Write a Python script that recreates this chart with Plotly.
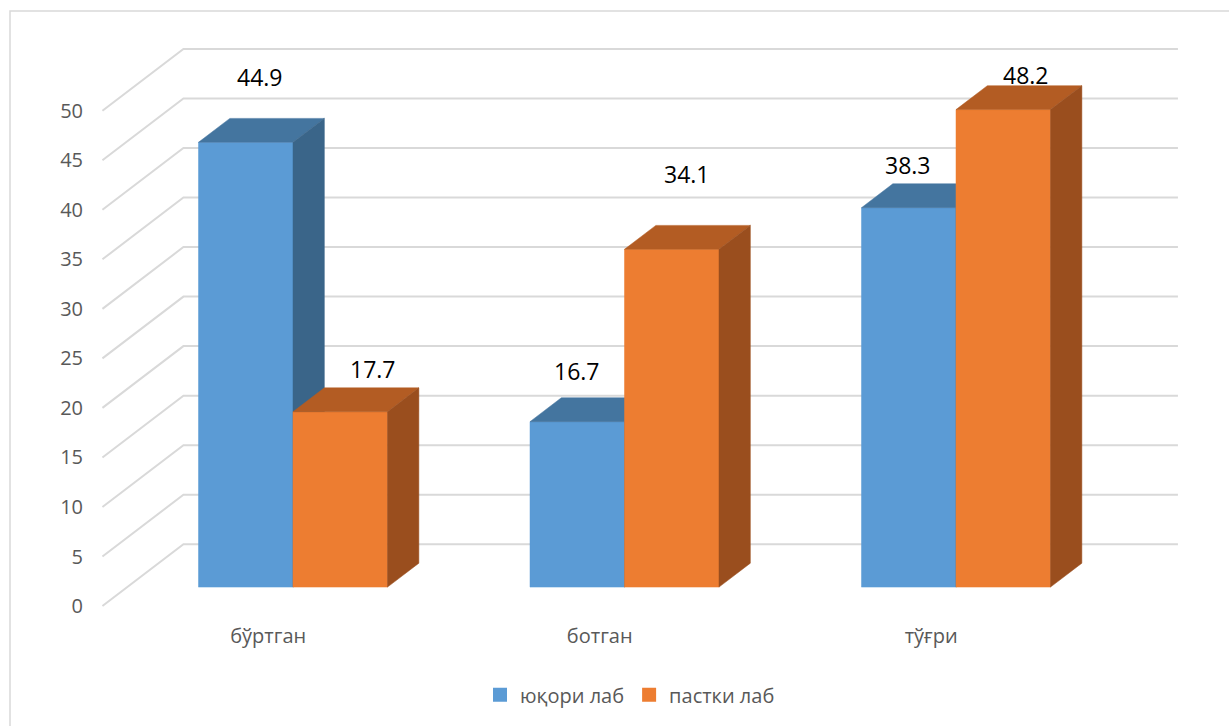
import plotly.graph_objects as go

# ---------------- data ----------------
categories = ["бўртган", "ботган", "тўғри"]
series_names = ["юқори лаб", "пастки лаб"]
upper_lip = [44.9, 16.7, 38.3]
lower_lip = [17.7, 34.1, 48.2]
y_ticks = [0, 5, 10, 15, 20, 25, 30, 35, 40, 45, 50]

# ---------------- style / geometry ----------------
W, H = 1229, 726
FONT = "Open Sans"
GRAY = "#595959"
GRID = "#d9d9d9"
FRONT = ["#5b9bd5", "#ed7d31"]
TOP = ["#44759f", "#b35c23"]
SIDE = ["#3a6589", "#9a4e1e"]

# pixel mapping of the front plane of the bars
PX0, PXC = 293.0, 331.5      # pixel of category 0 centre, pixels per category
PY0, PYV = 589.0, 9.94       # pixel of value 0, pixels per value unit
# oblique projection of depth (1 = full wall depth)
DX = 81.0 / PXC              # category units per depth
DY = 62.0 / PYV              # value units per depth
D_FRONT = -19.0 / 62.0       # front edge of side wall
D_BAR = 24.0 / 62.0          # bar depth
D_BACK = 1.0 + D_FRONT       # back wall
BAR_W = 94.5 / PXC
X_LO, X_HI = -0.5, 2.5       # world extent of floor

# plot area in pixels
PL, PR, PT, PB = 88, 1190, 30, 618
x_range = [(PL - PX0) / PXC, (PR - PX0) / PXC]
y_range = [(PY0 - PB) / PYV, (PY0 - PT) / PYV]

LABEL_SHIFT = [[(14, 65), (33, 43)], [(0, 51), (15, 75)], [(-1, 43), (23, 35)]]

fig = go.Figure()

# ---- walls: gridlines (side diagonals + back horizontals) ----
gx, gy = [], []
for v in y_ticks:
    gx += [X_LO + D_FRONT * DX, X_LO + D_BACK * DX, X_HI + D_BACK * DX, None]
    gy += [v + D_FRONT * DY, v + D_BACK * DY, v + D_BACK * DY, None]
fig.add_trace(go.Scatter(x=gx, y=gy, mode="lines", line=dict(color=GRID, width=2),
                         hoverinfo="skip", showlegend=False))


def poly(xs, ys, color):
    fig.add_trace(go.Scatter(x=xs + [xs[0]], y=ys + [ys[0]], mode="lines", fill="toself",
                             fillcolor=color, line=dict(color=color, width=0.5),
                             hoverinfo="skip", showlegend=False))


series = [upper_lip, lower_lip]
dx, dy = D_BAR * DX, D_BAR * DY
for ci in range(len(categories)):
    for si, vals in enumerate(series):
        v = vals[ci]
        x0 = ci - BAR_W + si * BAR_W
        x1 = x0 + BAR_W
        poly([x0, x1, x1, x0], [0, 0, v, v], FRONT[si])
        poly([x0, x1, x1 + dx, x0 + dx], [v, v, v + dy, v + dy], TOP[si])
        poly([x1, x1 + dx, x1 + dx, x1], [0, dy, v + dy, v], SIDE[si])
        sx, sy = LABEL_SHIFT[ci][si]
        fig.add_annotation(x=(x0 + x1) / 2, y=v, text=f"{v}", showarrow=False,
                           xanchor="center", yanchor="middle", xshift=sx, yshift=sy,
                           font=dict(family=FONT, size=23, color="#000000"))

# ---- legend entries ----
for si, name in enumerate(series_names):
    fig.add_trace(go.Scatter(x=[None], y=[None], mode="markers", name=name,
                             marker=dict(symbol="square", size=14, color=FRONT[si])))

# ---- outer frame ----
fig.add_shape(type="rect", xref="paper", yref="paper",
              x0=(10 - PL) / (PR - PL), x1=(1260 - PL) / (PR - PL),
              y0=(PB - 760) / (PB - PT), y1=(PB - 11) / (PB - PT),
              line=dict(color=GRID, width=1.5), fillcolor="rgba(0,0,0,0)", layer="below")

fig.update_layout(
    width=W, height=H,
    margin=dict(l=PL, r=W - PR, t=PT, b=H - PB),
    paper_bgcolor="white", plot_bgcolor="white",
    font=dict(family=FONT, size=20, color=GRAY),
    xaxis=dict(range=x_range, showgrid=False, zeroline=False, showline=False,
               tickvals=[i + D_FRONT * DX for i in range(len(categories))],
               ticktext=categories, ticks="", ticklabelstandoff=6,
               tickfont=dict(family=FONT, size=20, color=GRAY), fixedrange=True),
    yaxis=dict(range=y_range, showgrid=False, zeroline=False, showline=False,
               tickvals=[v + D_FRONT * DY for v in y_ticks],
               ticktext=[str(v) for v in y_ticks], ticks="", ticklabelstandoff=4,
               tickfont=dict(family=FONT, size=20, color=GRAY), fixedrange=True),
    legend=dict(orientation="h", x=(630 - PL) / (PR - PL), xanchor="center",
                y=(PB - 697) / (PB - PT), yanchor="middle",
                font=dict(family=FONT, size=20, color=GRAY),
                itemwidth=30, tracegroupgap=0, bgcolor="rgba(0,0,0,0)"),
    showlegend=True,
)

fig.write_html("out.html")
